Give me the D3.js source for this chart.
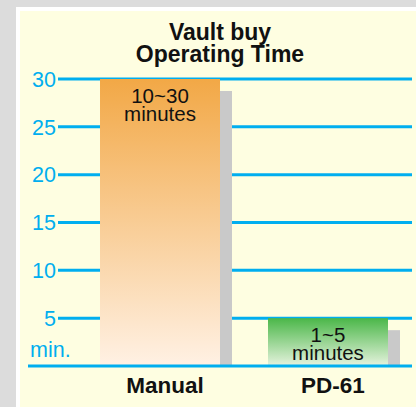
<!DOCTYPE html>
<html>
<head>
<meta charset="utf-8">
<title>Vault buy Operating Time</title>
<script src="https://cdn.jsdelivr.net/npm/d3@7"></script>
<style>
  html, body { margin: 0; padding: 0; background: #dcdcdc; }
  svg { display: block; font-family: "Liberation Sans", Arial, sans-serif; }
  .tick-label { fill: #00aeef; font-size: 21.5px; }
  .cat-label { fill: #111; font-size: 22.5px; font-weight: bold; }
  .title { fill: #111; font-size: 23px; font-weight: bold; }
  .val-label { fill: #111; font-size: 20.5px; }
</style>
</head>
<body>
<svg width="416" height="407"></svg>
<script>
// chart data
var categories = ["Manual", "PD-61"];
var values = [30, 5];
var rangeLabels = ["10~30", "1~5"];
var unitLabel = "minutes";
var tickValues = [5, 10, 15, 20, 25, 30];
var titleLines = ["Vault buy", "Operating Time"];

var svg = d3.select("svg"),
    W = +svg.attr("width"),
    H = +svg.attr("height");

var blue = "#00aeef";

// frame: grey page, thin white rim, pale yellow panel
svg.append("rect").attr("width", W).attr("height", H).attr("fill", "#dcdcdc");
svg.append("rect").attr("x", 16).attr("y", 7).attr("width", W).attr("height", H).attr("fill", "#ffffff");
svg.append("rect").attr("x", 20).attr("y", 11).attr("width", W).attr("height", H).attr("fill", "#fefee1");

var x = d3.scaleBand()
    .domain(categories)
    .range([76, 412])
    .paddingInner(0.2857)
    .paddingOuter(0.1429);

var y = d3.scaleLinear().domain([0, 30]).range([366, 79]);

var defs = svg.append("defs");
var grads = [
  {id: "gOrange", top: "#f2a846", bottom: "#fff1e4"},
  {id: "gGreen", top: "#4bb749", bottom: "#e6f3de"}
];
grads.forEach(function(g) {
  var lg = defs.append("linearGradient").attr("id", g.id)
      .attr("x1", 0).attr("y1", 0).attr("x2", 0).attr("y2", 1);
  lg.append("stop").attr("offset", "0%").attr("stop-color", g.top);
  lg.append("stop").attr("offset", "100%").attr("stop-color", g.bottom);
});

// gridlines
svg.append("g").selectAll("line")
  .data(tickValues)
  .enter().append("line")
    .attr("x1", 58).attr("x2", 412)
    .attr("y1", function(d) { return y(d); })
    .attr("y2", function(d) { return y(d); })
    .attr("stroke", blue)
    .attr("stroke-width", 3);

// tick labels
svg.append("g").selectAll("text")
  .data(tickValues)
  .enter().append("text")
    .attr("class", "tick-label")
    .attr("x", 56)
    .attr("y", function(d) { return y(d); })
    .attr("dy", "0.36em")
    .attr("text-anchor", "end")
    .text(function(d) { return d; });

svg.append("text")
    .attr("class", "tick-label")
    .attr("x", 30)
    .attr("y", 357)
    .text("min.");

// bar shadows
svg.append("g").selectAll("rect")
  .data(values)
  .enter().append("rect")
    .attr("x", function(d, i) { return x(categories[i]) + 12; })
    .attr("y", function(d) { return y(d) + 12; })
    .attr("width", x.bandwidth())
    .attr("height", function(d) { return y(0) - y(d) - 12; })
    .attr("fill", "#c9c9c9");

// bars
svg.append("g").selectAll("rect")
  .data(values)
  .enter().append("rect")
    .attr("x", function(d, i) { return x(categories[i]); })
    .attr("y", function(d) { return y(d); })
    .attr("width", x.bandwidth())
    .attr("height", function(d) { return y(0) - y(d); })
    .attr("fill", function(d, i) { return "url(#" + grads[i].id + ")"; });

// baseline
svg.append("line")
    .attr("x1", 28).attr("x2", 412)
    .attr("y1", y(0)).attr("y2", y(0))
    .attr("stroke", blue)
    .attr("stroke-width", 3);

// labels inside bars
var vl = svg.append("g").selectAll("text")
  .data(values)
  .enter().append("text")
    .attr("class", "val-label")
    .attr("text-anchor", "middle")
    .attr("x", function(d, i) { return x(categories[i]) + x.bandwidth() / 2; })
    .attr("y", function(d) { return y(d) + 24; });
vl.append("tspan").text(function(d, i) { return rangeLabels[i]; });
vl.append("tspan")
    .attr("x", function(d, i) { return x(categories[i]) + x.bandwidth() / 2; })
    .attr("dy", 18)
    .text(unitLabel);

// category labels
svg.append("g").selectAll("text")
  .data(categories)
  .enter().append("text")
    .attr("class", "cat-label")
    .attr("text-anchor", "middle")
    .attr("x", function(d) { return x(d) + x.bandwidth() / 2 + 5; })
    .attr("y", 393)
    .text(function(d) { return d; });

// title
svg.append("g").selectAll("text")
  .data(titleLines)
  .enter().append("text")
    .attr("class", "title")
    .attr("text-anchor", "middle")
    .attr("x", 220)
    .attr("y", function(d, i) { return 40 + i * 21.7; })
    .text(function(d) { return d; });
</script>
</body>
</html>
